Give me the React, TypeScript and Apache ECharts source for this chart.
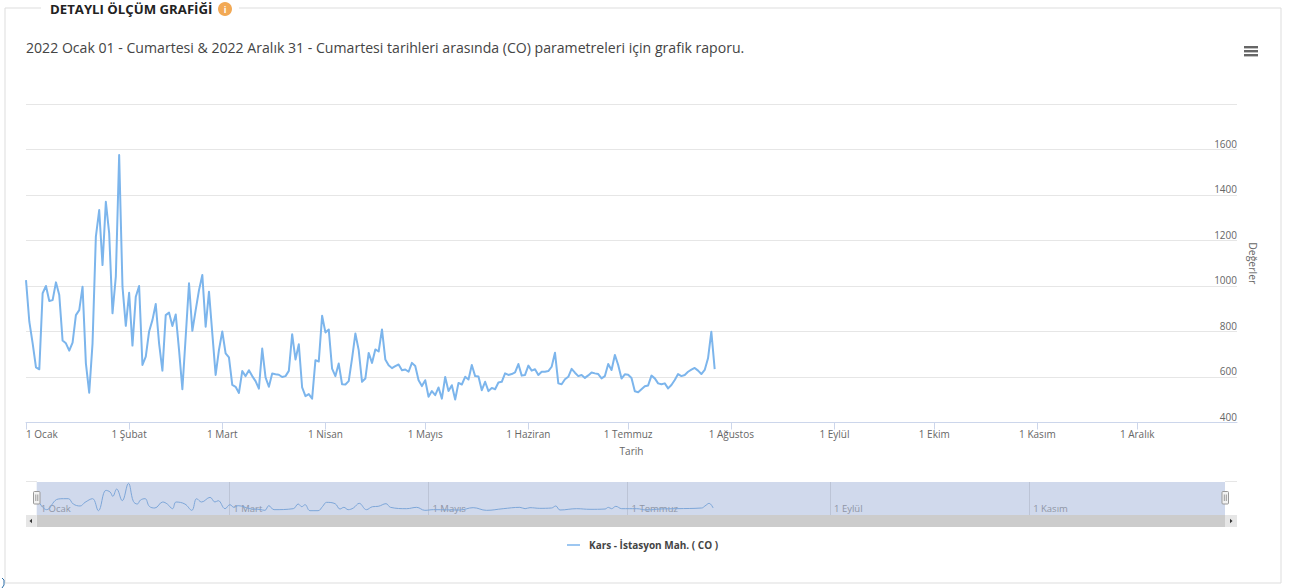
import React, { useEffect, useRef } from "react";
import * as echarts from "echarts";

const monthDays = [0, 31, 59, 90, 120, 151, 181, 212, 243, 273, 304, 334];
const monthNames = ["1 Ocak", "1 Şubat", "1 Mart", "1 Nisan", "1 Mayıs", "1 Haziran", "1 Temmuz", "1 Ağustos", "1 Eylül", "1 Ekim", "1 Kasım", "1 Aralık"];
const navDaysTicks = [0, 59, 120, 181, 243, 304];

// Günlük ölçümler: 1 Ocak'tan itibaren
const coValues = [
  1026, 843, 748, 642, 634, 968, 1000, 934, 938, 1016, 960, 760, 748, 716, 751, 872, 894, 997, 660, 531,
  748, 1217, 1334, 1092, 1370, 1232, 880, 1041, 1576, 997, 825, 970, 738, 953, 1000, 653, 690, 800, 850, 921,
  748, 628, 872, 883, 824, 875, 719, 546, 777, 1012, 803, 894, 982, 1048, 821, 975, 792, 609, 719, 800,
  704, 686, 565, 557, 530, 626, 604, 630, 604, 582, 549, 725, 598, 557, 615, 612, 610, 600, 604, 627,
  788, 677, 744, 554, 516, 525, 505, 674, 668, 869, 796, 809, 637, 604, 659, 568, 567, 582, 681, 791,
  718, 579, 593, 706, 662, 721, 712, 809, 677, 652, 639, 648, 655, 630, 633, 623, 662, 648, 586, 560,
  586, 513, 538, 520, 554, 505, 600, 538, 564, 501, 574, 567, 601, 589, 653, 604, 602, 542, 579, 538,
  552, 546, 576, 579, 616, 609, 613, 620, 657, 606, 609, 650, 628, 634, 609, 623, 623, 626, 645, 707,
  572, 568, 590, 601, 636, 619, 604, 609, 596, 607, 620, 616, 613, 594, 604, 657, 631, 697, 653, 593,
  612, 610, 596, 537, 533, 546, 559, 563, 606, 594, 572, 568, 572, 550, 565, 587, 613, 604, 609, 623,
  632, 640, 628, 613, 631, 682, 799, 635,
];

// Alt gezgin (navigator) çizgisi: gruplanmış değerler
const navDays = [
  0, 1.6, 3.05, 5.6, 6.6, 8.2, 9.7, 11.2, 13.3, 14.8, 17.1, 18.9, 21.2, 22.5, 23.3, 24.5, 26.2, 28.1, 29.6, 30.8,
  31.8, 33.2, 34.5, 36.2, 38.6, 40, 41.6, 42.7, 45.4, 47.5, 49, 50.5, 53.1, 54.6, 55.6, 57.7, 59.2, 60.4, 61.7, 65.3,
  68.4, 69.9, 71.1, 72.7, 78.6, 80.1, 81.2, 82.2, 83.7, 86.2, 87.6, 88.8, 91.4, 92.9, 94.1, 95.4, 97, 98.8, 101, 102.9,
  104.6, 107, 108.4, 113.3, 116.4, 118.9, 121.5, 129.6, 133.7, 137.8, 142.9, 148, 149.6, 151.1, 154.1, 157.7, 159, 160.3, 165.4, 169.5,
  174.1, 175.1, 176.1, 177.4, 179.2, 183.8, 186.8, 190.9, 196, 203.7, 204.7, 206, 207.2,
];
const navValues = [
  1011, 691, 563, 908, 972, 985, 985, 780, 704, 844, 985, 524, 1305, 1240, 1075, 1356, 908, 1574, 883, 780,
  934, 985, 691, 627, 857, 780, 601, 857, 780, 537, 985, 857, 1036, 857, 908, 601, 755, 652, 716, 601,
  570, 537, 716, 563, 601, 780, 678, 755, 524, 524, 691, 844, 793, 588, 652, 563, 627, 806, 563, 678,
  691, 793, 652, 601, 652, 537, 563, 550, 640, 537, 601, 652, 601, 640, 614, 627, 704, 550, 601, 576,
  588, 652, 601, 691, 601, 601, 550, 588, 601, 627, 704, 806, 627,
];

const seriesName = "Kars - İstasyon Mah. ( CO )";
const headingText = "DETAYLI ÖLÇÜM GRAFİĞİ";
const subtitleText = "2022 Ocak 01 - Cumartesi & 2022 Aralık 31 - Cumartesi tarihleri arasında (CO) parametreleri için grafik raporu.";
const FONT = '"Open Sans", sans-serif';

export default function App() {
  const ref = useRef<HTMLDivElement>(null);
  useEffect(() => {
    document.body.style.margin = "0";
    const chart = echarts.init(ref.current!, null, { renderer: "svg" });
    const lineColor = "#7cb5ec";
    const rect = (x: number, y: number, w: number, h: number, fill: string, z = 10, stroke?: string, r = 0) => ({
      type: "rect", silent: true, z,
      shape: { x, y, width: w, height: h, r },
      style: { fill, stroke: stroke ?? "none", lineWidth: stroke ? 1 : 0 },
    });
    const seg = (x1: number, y1: number, x2: number, y2: number, stroke: string, lineWidth = 1, z = 5) => ({
      type: "line", silent: true, z, shape: { x1, y1, x2, y2 }, style: { stroke, lineWidth },
    });
    const tri = (points: number[][]) => ({ type: "polygon", silent: true, z: 12, shape: { points }, style: { fill: "#333" } });
    chart.setOption({
      animation: false,
      backgroundColor: "#ffffff",
      textStyle: { fontFamily: FONT },
      legend: {
        data: [seriesName],
        left: 562,
        top: 535,
        icon: "rect",
        itemWidth: 13,
        itemHeight: 1.5,
        textStyle: { fontFamily: FONT, fontSize: 10, fontWeight: "bold", color: "#444", padding: [0, 0, 0, 4] },
      },
      grid: [
        { left: 26, top: 104, width: 1211, height: 318.5, containLabel: false },
        { left: 36.7, top: 482, width: 1188.3, height: 33, show: true, backgroundColor: "#d0d9ec", borderWidth: 0 },
      ],
      xAxis: [
        {
          type: "value", gridIndex: 0, min: 0, max: 364,
          name: "Tarih", nameLocation: "middle", nameGap: 23,
          nameTextStyle: { fontFamily: FONT, fontSize: 10, color: "#666" },
          splitLine: { show: false },
          axisLine: { show: true, lineStyle: { color: "#ccd6eb" } },
          axisTick: { show: true, length: 7, customValues: monthDays, lineStyle: { color: "#ccd6eb" } },
          axisLabel: {
            customValues: monthDays, margin: 6, hideOverlap: false, alignMinLabel: "left",
            fontFamily: FONT, fontSize: 10, color: "#666",
            formatter: (v: number) => monthNames[monthDays.indexOf(v)] ?? "",
          },
        },
        {
          type: "value", gridIndex: 1, min: 0, max: 364,
          axisLine: { show: false },
          axisTick: { show: false, customValues: navDaysTicks.slice(1) },
          splitLine: { show: true, lineStyle: { color: "#bcc4d6", width: 1 } },
          axisLabel: {
            show: true, inside: true, customValues: navDaysTicks, margin: 2, align: "left", padding: [0, 0, 0, 4], hideOverlap: false,
            alignMinLabel: "left", fontFamily: FONT, fontSize: 9.5, color: "#8f95a5",
            formatter: (v: number) => monthNames[monthDays.indexOf(v)] ?? "",
          },
        },
      ],
      yAxis: [
        {
          type: "value", gridIndex: 0, position: "right", min: 400, max: 1800, interval: 200,
          name: "Değerler", nameLocation: "middle", nameRotate: -90, nameGap: 9,
          nameTextStyle: { fontFamily: FONT, fontSize: 10.5, color: "#666" },
          axisLine: { show: false }, axisTick: { show: false },
          splitLine: { show: true, lineStyle: { color: "#e6e6e6", width: 1 } },
          axisLabel: {
            inside: true, margin: 0, verticalAlign: "bottom", showMaxLabel: false, padding: [0, 0, 1, 0],
            fontFamily: FONT, fontSize: 10, color: "#666",
            formatter: (v: number) => String(v),
          },
        },
        { type: "value", gridIndex: 1, min: 358, max: 1626, show: false, splitLine: { show: false } },
      ],
      series: [
        {
          name: seriesName, type: "line", xAxisIndex: 0, yAxisIndex: 0, showSymbol: false, symbol: "none",
          data: coValues.map((v, i) => [i, v]),
          lineStyle: { color: lineColor, width: 2, join: "round" }, itemStyle: { color: lineColor },
          z: 3,
        },
        {
          name: "navigator", type: "line", xAxisIndex: 1, yAxisIndex: 1, showSymbol: false, symbol: "none", smooth: 0.4,
          data: navDays.map((d, i) => [d, navValues[i]]),
          lineStyle: { color: "#7da6d8", width: 1 }, z: 4,
        },
      ],
      graphic: [
        // çerçeve (fieldset)
        seg(5, 8, 5, 583, "#dddddd"),
        seg(5, 583, 1281, 583, "#dddddd"),
        seg(1281, 8, 1281, 583, "#dddddd"),
        seg(5, 8, 41, 8, "#dddddd"),
        seg(239, 8, 1281, 8, "#dddddd"),
        { type: "text", silent: true, z: 6, x: 50, y: 8.5, style: { text: headingText, verticalAlign: "middle", fontFamily: FONT, fontSize: 13.2, fontWeight: "bold", fill: "#222" } },
        { type: "circle", silent: true, z: 6, shape: { cx: 225, cy: 9, r: 7 }, style: { fill: "#f2a955" } },
        { type: "text", silent: true, z: 7, x: 225, y: 9, style: { text: "i", align: "center", verticalAlign: "middle", fontFamily: FONT, fontSize: 9, fontWeight: "bold", fill: "#fff" } },
        { type: "text", silent: true, z: 6, x: 26, y: 47, style: { text: subtitleText, verticalAlign: "middle", fontFamily: FONT, fontSize: 14.1, fill: "#444" } },
        // menü simgesi
        rect(1244, 46, 14, 2.4, "#666"),
        rect(1244, 50, 14, 2.4, "#666"),
        rect(1244, 54, 14, 2.4, "#666"),
        // gezgin üst çizgileri
        seg(26, 481.5, 37, 481.5, "#e6e6e6"),
        seg(1225, 481.5, 1237, 481.5, "#e6e6e6"),
        // kaydırma çubuğu
        rect(36.7, 515, 1188.3, 12, "#cccccc"),
        rect(26, 515, 10.7, 12, "#e6e6e6"),
        rect(1225, 515, 12, 12, "#e6e6e6"),
        tri([[29.5, 521], [32, 518.8], [32, 523.2]]),
        tri([[1232.5, 521], [1230, 518.8], [1230, 523.2]]),
        seg(628.5, 518, 628.5, 523.5, "#333"),
        seg(631, 518, 631, 523.5, "#333"),
        seg(633.5, 518, 633.5, 523.5, "#333"),
        // tutamaçlar
        rect(33.5, 491.5, 6.5, 12.5, "#f2f2f2", 11, "#999999", 1),
        seg(35.8, 494.5, 35.8, 501, "#999", 1, 12),
        seg(37.8, 494.5, 37.8, 501, "#999", 1, 12),
        rect(1222, 491.5, 6.5, 12.5, "#f2f2f2", 11, "#999999", 1),
        seg(1224.3, 494.5, 1224.3, 501, "#999", 1, 12),
        seg(1226.3, 494.5, 1226.3, 501, "#999", 1, 12),
        // sol alt köşe işareti
        { type: "polyline", silent: true, z: 6, shape: { points: [[2, 578], [4, 580], [4, 585], [2, 588]] }, style: { stroke: "#2a6da8", fill: "none", lineWidth: 1 } },
      ],
    });
    return () => chart.dispose();
  }, []);
  return <div ref={ref} style={{ position: "fixed", left: 0, top: 0, width: 1294, height: 588 }} />;
}
